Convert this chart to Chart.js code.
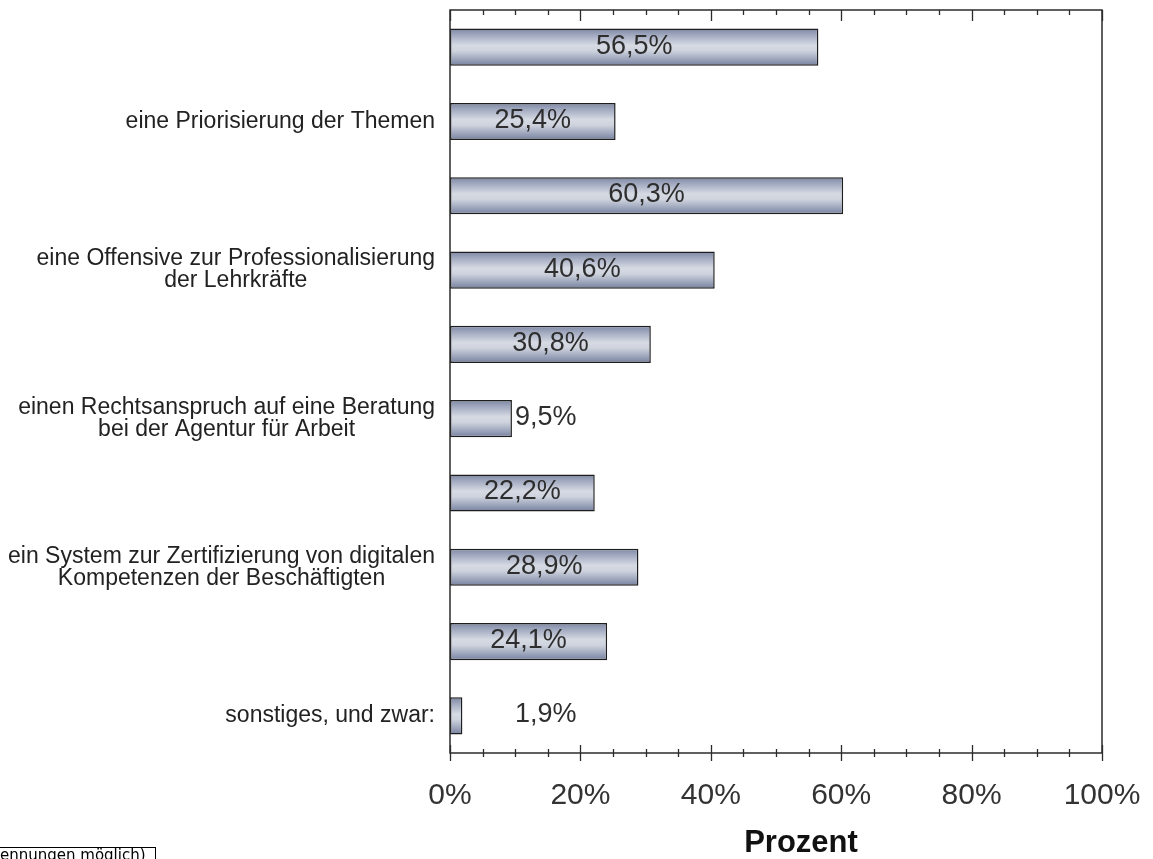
<!DOCTYPE html>
<html><head><meta charset="utf-8">
<script src="https://cdn.jsdelivr.net/npm/chart.js@4/dist/chart.umd.min.js"></script>
<style>html,body{margin:0;padding:0;background:#fff;overflow:hidden}#wrap{position:relative;width:1153px;height:859px}</style>
</head><body><div id="wrap"><canvas id="c" width="1153" height="859"></canvas></div>
<script>
const categories = [
  '',
  'eine Priorisierung der Themen',
  '',
  ['eine Offensive zur Professionalisierung', 'der Lehrkräfte'],
  '',
  ['einen Rechtsanspruch auf eine Beratung', 'bei der Agentur für Arbeit'],
  '',
  ['ein System zur Zertifizierung von digitalen', 'Kompetenzen der Beschäftigten'],
  '',
  'sonstiges, und zwar:'
];
const values = [56.5, 25.4, 60.3, 40.6, 30.8, 9.5, 22.2, 28.9, 24.1, 1.9];
const valueLabels = ['56,5%', '25,4%', '60,3%', '40,6%', '30,8%', '9,5%', '22,2%', '28,9%', '24,1%', '1,9%'];
const xTickValues = [0, 20, 40, 60, 80, 100];
const xTickLabels = ['0%', '20%', '40%', '60%', '80%', '100%'];
const axisTitle = 'Prozent';
const noteText = 'ennungen möglich)';

const FONT = '"Liberation Sans", Arial, sans-serif';
const MINOR_STEP = 5;
const OUTSIDE_LABEL_AT = 14.7;

function barGradient(c) {
  const chart = c.chart, ys = chart.scales && chart.scales.y;
  if (!ys || c.type !== 'data' || !isFinite(ys.getPixelForTick(0))) return '#b0b7c9';
  const yc = ys.getPixelForTick(c.dataIndex);
  const step = Math.abs(ys.getPixelForTick(1) - ys.getPixelForTick(0));
  const half = step * 0.25;
  const g = chart.ctx.createLinearGradient(0, yc - half, 0, yc + half);
  g.addColorStop(0, '#7d87a3');
  g.addColorStop(0.18, '#a2aac0');
  g.addColorStop(0.45, '#d6dae3');
  g.addColorStop(0.6, '#ced3dd');
  g.addColorStop(0.85, '#97a0b8');
  g.addColorStop(1, '#76809c');
  return g;
}

const decor = {
  id: 'decor',
  afterDraw(chart) {
    const ctx = chart.ctx, a = chart.chartArea;
    const xs = chart.scales.x, ys = chart.scales.y;
    ctx.save();
    ctx.strokeStyle = '#2b2b2b';
    ctx.lineWidth = 1.5;
    ctx.strokeRect(a.left, a.top, a.right - a.left, a.bottom - a.top);
    ctx.lineWidth = 1.3;
    ctx.beginPath();
    for (let v = xs.min; v <= xs.max; v += MINOR_STEP) {
      const x = Math.round(xs.getPixelForValue(v)) + 0.5;
      const major = v % 20 === 0;
      ctx.moveTo(x, a.top); ctx.lineTo(x, a.top + (major ? 11 : 5));
      ctx.moveTo(x, a.bottom - (major ? 8 : 4)); ctx.lineTo(x, a.bottom + (major ? 8 : 4));
    }
    ctx.stroke();
    ctx.font = '27px ' + FONT;
    ctx.fillStyle = '#2e2e2e';
    ctx.textBaseline = 'middle';
    ctx.textAlign = 'center';
    chart.getDatasetMeta(0).data.forEach((el, i) => {
      const t = valueLabels[i];
      const w = ctx.measureText(t).width;
      const barW = Math.abs(el.x - el.base);
      const x = (w + 10 < barW) ? (el.x + el.base) / 2 : xs.getPixelForValue(OUTSIDE_LABEL_AT);
      ctx.fillText(t, x, el.y - 1);
    });
    ctx.font = '23px ' + FONT;
    ctx.fillStyle = '#222';
    const lh = 22;
    categories.forEach((c, i) => {
      const lines = Array.isArray(c) ? c : [c];
      if (!lines.join('')) return;
      const maxW = Math.max(...lines.map(l => ctx.measureText(l).width));
      const cx = a.left - 15 - maxW / 2;
      const cy = ys.getPixelForTick(i);
      lines.forEach((l, k) => ctx.fillText(l, cx, cy + (k - (lines.length - 1) / 2) * lh));
    });
    ctx.font = 'bold 31px ' + FONT;
    ctx.fillStyle = '#111';
    ctx.fillText(axisTitle, (a.left + a.right) / 2 + 25, 843);
    ctx.strokeStyle = '#000';
    ctx.lineWidth = 1;
    ctx.strokeRect(-5.5, 847.5, 161, 30);
    ctx.font = '15px "DejaVu Sans", sans-serif';
    ctx.textAlign = 'left';
    ctx.textBaseline = 'top';
    ctx.fillStyle = '#000';
    ctx.fillText(noteText, 0, 849);
    ctx.restore();
  }
};

new Chart(document.getElementById('c'), {
  type: 'bar',
  data: {
    labels: categories,
    datasets: [{
      data: values,
      backgroundColor: barGradient,
      borderColor: '#1e1e1e',
      borderWidth: 1.5,
      borderSkipped: false,
      barPercentage: 0.5,
      categoryPercentage: 1
    }]
  },
  options: {
    indexAxis: 'y',
    responsive: false,
    animation: false,
    layout: { padding: { top: 10, right: 51, left: 0, bottom: 0 } },
    plugins: { legend: { display: false }, tooltip: { enabled: false } },
    scales: {
      x: {
        min: 0, max: 100,
        grid: { display: false, drawTicks: false },
        border: { display: false },
        afterBuildTicks(s) { s.ticks = xTickValues.map(v => ({ value: v })); },
        afterFit(s) { s.height = 106; s.paddingRight = 0; s.paddingLeft = 0; },
        ticks: {
          padding: 25,
          color: '#333',
          font: { family: FONT, size: 30 },
          maxRotation: 0,
          callback: (v) => xTickLabels[xTickValues.indexOf(v)]
        }
      },
      y: {
        grid: { display: false, drawTicks: false },
        border: { display: false },
        ticks: { display: false },
        afterFit(s) { s.width = 450; }
      }
    }
  },
  plugins: [decor]
});
</script>
</body></html>
